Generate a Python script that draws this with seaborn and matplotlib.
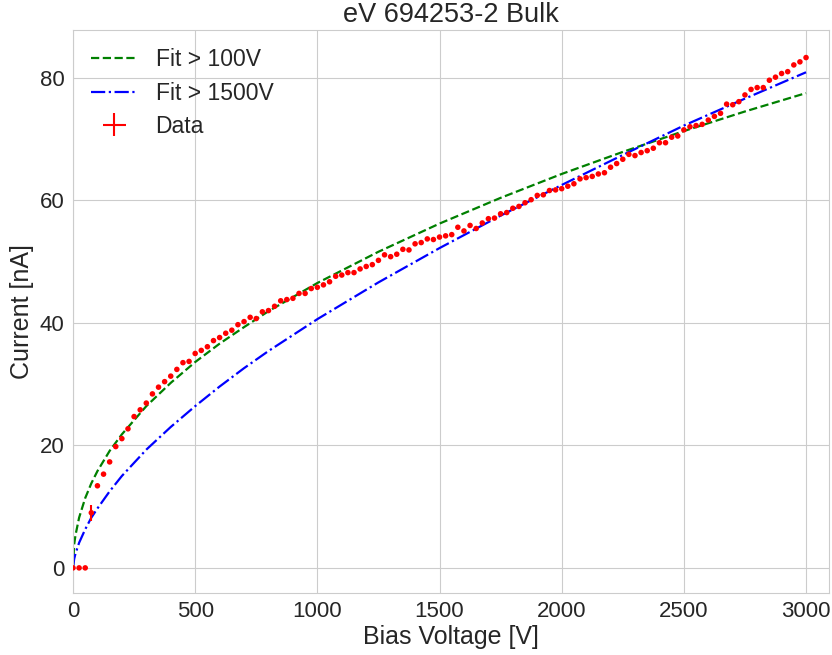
import matplotlib
matplotlib.use("Agg")
import matplotlib.pyplot as plt
import seaborn as sns
import numpy as np

# measured points, 25 V steps from 0 to 3000 V
voltage = list(range(0, 3025, 25))
current = [0.0, 0.0, 0.0, 9.0, 13.4, 15.3, 17.3, 19.8, 21.1, 22.7,
           24.7, 25.8, 26.9, 28.4, 29.5, 30.4, 31.3, 32.4, 33.5, 33.7,
           35.0, 35.5, 36.1, 37.1, 37.6, 38.3, 38.8, 39.7, 40.2, 40.9,
           40.7, 41.8, 42.0, 42.7, 43.6, 43.8, 44.0, 44.8, 44.8, 45.6,
           45.8, 46.2, 46.7, 47.6, 47.8, 48.2, 48.2, 48.8, 49.2, 49.5,
           50.2, 51.1, 50.8, 51.2, 52.0, 51.9, 52.9, 53.1, 53.7, 53.6,
           54.0, 54.2, 54.4, 55.6, 55.0, 55.9, 55.4, 56.3, 57.0, 57.1,
           57.8, 58.0, 58.7, 59.0, 59.6, 60.1, 60.8, 60.9, 61.6, 61.7,
           61.9, 62.3, 62.7, 63.5, 63.7, 63.9, 64.3, 64.5, 65.4, 66.0,
           66.7, 67.5, 67.3, 67.8, 68.1, 68.5, 69.4, 69.4, 70.3, 70.5,
           71.5, 72.0, 72.2, 72.4, 73.1, 73.7, 74.2, 75.7, 75.6, 76.1,
           77.2, 78.1, 78.4, 78.4, 79.6, 80.1, 80.7, 81.0, 82.1, 82.6,
           83.3]
current_err = [0.0] * 3 + [1.3] + [0.2] * 117
voltage_err = 2.0

# fit curves
fit_v = [0, 5, 10, 25, 50, 75, 100, 150, 200, 300, 400, 500, 600, 700,
         800, 900, 1000, 1250, 1500, 1750, 2000, 2250, 2500, 2750, 3000]
fit100_i = [0, 3.9, 5.3, 8.2, 11.4, 13.8, 15.8, 19.1, 21.8, 26.4, 30.2,
            33.6, 36.6, 39.3, 41.9, 44.2, 46.5, 51.6, 56.2, 60.4, 64.3,
            67.9, 71.3, 74.5, 77.5]
fit1500_i = [0, 1.5, 2.3, 4.1, 6.3, 8.2, 9.7, 12.5, 15.0, 19.3, 23.0,
             26.4, 29.6, 32.6, 35.4, 38.0, 40.6, 46.6, 52.2, 57.5, 62.5,
             67.4, 72.2, 76.6, 80.9]

sns.set_style("whitegrid")
plt.rcParams['font.family'] = ['Liberation Sans', 'DejaVu Sans']

fig = plt.figure(figsize=(8.32, 6.55), dpi=100)
ax = fig.add_axes([73 / 832, 1 - 593 / 655, (829 - 73) / 832, (593 - 30) / 655])

sns.lineplot(x=fit_v, y=fit100_i, ax=ax, color='green', linestyle='--',
             linewidth=1.6, label='Fit > 100V', sort=False)
sns.lineplot(x=fit_v, y=fit1500_i, ax=ax, color='blue', linestyle='-.',
             linewidth=1.6, label='Fit > 1500V', sort=False)
sns.scatterplot(x=voltage, y=current, ax=ax, color='red', s=16,
                edgecolor='none', legend=False, zorder=3)
ax.errorbar(voltage, current, yerr=current_err, xerr=voltage_err,
            fmt='none', ecolor='red', elinewidth=1.5, label='Data', zorder=2)

ax.set_xlim(0, 3094)
ax.set_ylim(-4.1, 87.8)
ax.set_xticks([0, 500, 1000, 1500, 2000, 2500, 3000])
ax.set_yticks([0, 20, 40, 60, 80])
ax.tick_params(labelsize=16, pad=2.5)
ax.set_xlabel('Bias Voltage [V]', fontsize=18, labelpad=2)
ax.set_ylabel('Current [nA]', fontsize=18)
ax.set_title('eV 694253-2 Bulk', fontsize=19.5)
ax.legend(loc='upper left', fontsize=16.5, frameon=False, labelspacing=0.45,
          borderaxespad=0.4)

fig.savefig('out.png', dpi=100)
